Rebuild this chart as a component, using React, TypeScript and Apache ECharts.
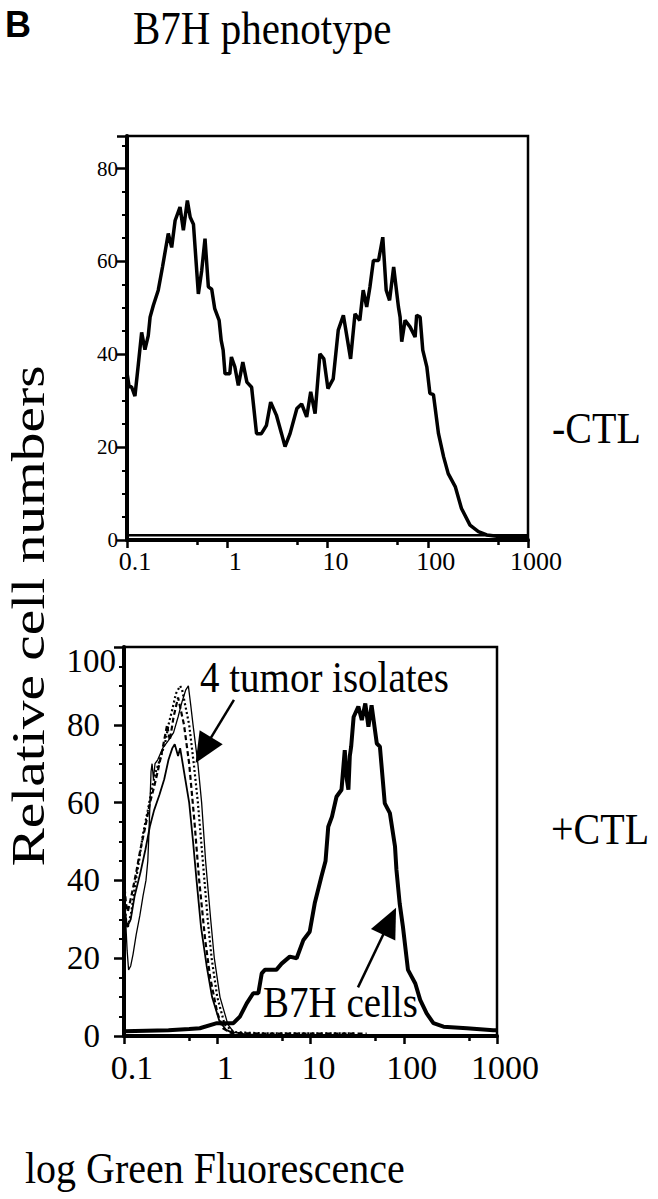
import React, { useEffect, useRef } from 'react';
import * as echarts from 'echarts';

const SERIF = '"Liberation Serif", "Times New Roman", serif';
const SANS = '"Liberation Sans", Arial, sans-serif';

// ---- axis definitions ----
const X_MIN = 0.1;
const X_MAX = 1000;
const xTickLabels = ['0.1', '1', '10', '100', '1000'];
const xMinorTicks = [0.5, 5, 50, 500];
const topYMax = 87;
const bottomYMax = 100;

// ---- top panel (-CTL) ----
const topCurve: number[][] = [
  [0.1, 36], [0.105, 33], [0.111, 33], [0.12, 31], [0.13, 38], [0.14, 44.7], [0.151, 41], [0.163, 44],
  [0.17, 48], [0.183, 50.5], [0.205, 53.8], [0.226, 58.8], [0.258, 66], [0.279, 63], [0.302, 68.8],
  [0.338, 71.7], [0.365, 66.7], [0.4, 73.1], [0.427, 69.5], [0.46, 68], [0.515, 53], [0.556, 58],
  [0.6, 64.9], [0.648, 54.5], [0.7, 54], [0.75, 49.8], [0.83, 47.3], [0.87, 43], [0.91, 40.9],
  [0.95, 35.8], [1.06, 35.8], [1.1, 39.4], [1.19, 37.3], [1.29, 33.3], [1.43, 38.3], [1.57, 34],
  [1.75, 32.9], [1.96, 22.9], [2.19, 22.9], [2.46, 24.7], [2.71, 29.7], [3.09, 26.9], [3.48, 22.9],
  [3.77, 20.1], [4.23, 22.9], [4.95, 28.3], [5.52, 29.3], [6.2, 26.5], [6.8, 31.9], [7.52, 27.2],
  [8.4, 40.1], [9.2, 39], [10.1, 32.6], [11.4, 34.7], [12.8, 45.2], [14.4, 48.4], [17, 39],
  [18.8, 48.7], [21, 47.3], [22.7, 53.8], [24.6, 50.2], [26.5, 54.5], [28.7, 60.2], [32.3, 60.2],
  [35.6, 65.2], [38.5, 53.8], [41.6, 51.6], [45.7, 58.8], [51, 50.2], [53, 48], [55, 42.7],
  [59.4, 47.3], [66.6, 45.9], [74.8, 43.7], [77.5, 48.4], [83.9, 48], [89.2, 40.9], [97.9, 37.3],
  [105, 31.6], [114, 31.3], [128, 22.9], [144, 17.9], [160, 14.3], [188, 11.5], [217, 6.8],
  [264, 3.2], [320, 1.8], [388, 1.1], [490, 0.8], [1000, 0.6],
];
const topBaseline: number[][] = [[0.1, 1], [1000, 1]];

// ---- bottom panel (+CTL) ----
const tumorThin: number[][] = [
  [0.1, 38], [0.104, 30], [0.108, 22], [0.112, 17], [0.118, 18], [0.125, 21], [0.135, 26], [0.148, 31],
  [0.16, 36], [0.172, 40], [0.18, 45], [0.185, 52], [0.19, 60], [0.195, 68], [0.2, 70], [0.207, 66],
  [0.215, 70], [0.23, 71], [0.26, 74], [0.3, 76], [0.34, 78], [0.38, 82], [0.42, 86], [0.46, 89],
  [0.49, 90], [0.52, 85], [0.55, 80], [0.62, 70], [0.68, 60], [0.75, 45], [0.85, 30], [0.93, 20],
  [1.07, 10], [1.3, 3], [1.5, 1], [2, 0.5], [3, 0.4],
];
const tumorDashed: number[][] = [
  [0.1, 40], [0.105, 34], [0.11, 32], [0.12, 36], [0.135, 42], [0.15, 48], [0.17, 54], [0.19, 60],
  [0.21, 64], [0.23, 68], [0.26, 74], [0.29, 80], [0.31, 76], [0.34, 82], [0.38, 87], [0.44, 80],
  [0.5, 70], [0.57, 55], [0.64, 40], [0.74, 25], [0.84, 15], [1.0, 6], [1.15, 2], [1.4, 0.8],
  [3, 0.6], [8, 0.6], [20, 0.6], [40, 0.6],
];
const tumorDotted: number[][] = [
  [0.1, 36], [0.105, 30], [0.11, 28], [0.12, 32], [0.13, 38], [0.145, 45], [0.16, 52], [0.18, 58],
  [0.2, 64], [0.22, 68], [0.25, 72], [0.28, 76], [0.3, 80], [0.33, 84], [0.36, 88], [0.4, 90],
  [0.42, 89], [0.5, 80], [0.56, 70], [0.62, 60], [0.7, 45], [0.79, 30], [0.87, 20], [1.0, 10],
  [1.2, 3], [1.5, 1], [3, 0.7], [10, 0.7], [30, 0.7],
];
const tumorMedium: number[][] = [
  [0.1, 34], [0.108, 28], [0.118, 30], [0.13, 36], [0.15, 42], [0.17, 48], [0.19, 54], [0.21, 58],
  [0.24, 62], [0.27, 66], [0.3, 71], [0.33, 74], [0.35, 75], [0.38, 72], [0.4, 74], [0.44, 68],
  [0.5, 60], [0.55, 50], [0.6, 40], [0.67, 28], [0.77, 18], [0.88, 10], [1.05, 4], [1.25, 1.5],
  [1.5, 0.8],
];
const b7hCells: number[][] = [
  [0.1, 1.2], [0.3, 1.5], [0.5, 1.8], [0.65, 2], [0.99, 3.3], [1.49, 3.3], [1.75, 5], [2.07, 8.4],
  [2.43, 11], [2.76, 11], [3.0, 16.1], [3.24, 17], [4.3, 17], [4.9, 18.6], [6.0, 20.4], [7.1, 20],
  [8.4, 24.7], [9.8, 26.8], [11.1, 34.1], [13.1, 41], [14.5, 45], [15.5, 53.8], [17, 56.4], [19, 61.5],
  [21.5, 63.3], [23.3, 73.5], [24.5, 66], [25.5, 63.3], [26.4, 72], [27.3, 74.4], [29, 82],
  [32.6, 84.7], [35.5, 81.2], [38.7, 85.5], [41.8, 79.5], [45.2, 85], [51.4, 75.2], [55.5, 74.4],
  [62.6, 59.8], [71, 57.3], [80.6, 48.7], [83.5, 42.7], [90.4, 34.1], [98, 28.1], [111, 17],
  [133, 13.5], [150, 9.3], [176, 5.8], [208, 3.3], [267, 2.4], [475, 2], [912, 1.5], [1000, 1.5],
];

// arrow annotations (data coordinates: start -> arrowhead)
const tumorArrow: number[][] = [[1.51, 86.4], [0.71, 73.5]];
const b7hArrow: number[][] = [[32.3, 12.5], [70.5, 29.5]];

function makeX(gridIndex: number, fontSize: number, margin: number, shift: number) {
  return {
    type: 'log',
    logBase: 10,
    gridIndex,
    min: X_MIN,
    max: X_MAX,
    position: 'bottom',
    splitNumber: 4,
    axisLine: { show: true, onZero: false, lineStyle: { color: '#000', width: 4 } },
    axisTick: { show: true, length: 8, lineStyle: { color: '#000', width: 2.5 } },
    axisLabel: {
      color: '#000',
      fontFamily: SERIF,
      fontSize,
      margin,
      padding: [0, 0, 0, shift],
      formatter: (v: number) => xTickLabels[Math.round(Math.log10(v)) + 1] ?? '',
    },
    splitLine: { show: false },
  };
}

function makeXMinor(gridIndex: number) {
  return {
    type: 'log',
    logBase: 10,
    gridIndex,
    min: X_MIN,
    max: X_MAX,
    position: 'bottom',
    axisLine: { show: false },
    axisLabel: { show: false },
    axisTick: { show: true, customValues: xMinorTicks, length: 5, lineStyle: { color: '#000', width: 2.5 } },
    splitLine: { show: false },
  };
}

function makeY(gridIndex: number, max: number, fontSize: number, margin: number, downShift: number) {
  return {
    type: 'value',
    gridIndex,
    min: 0,
    max,
    interval: 20,
    axisLine: { show: true, onZero: false, lineStyle: { color: '#000', width: 4 } },
    axisTick: { show: true, length: 10, lineStyle: { color: '#000', width: 2.5 } },
    minorTick: { show: true, splitNumber: 4, length: 5, lineStyle: { color: '#000', width: 2 } },
    axisLabel: {
      color: '#000',
      fontFamily: SERIF,
      fontSize,
      margin,
      padding: [downShift, 0, 0, 0],
      showMaxLabel: max % 20 === 0,
      formatter: (v: number) => (v === 100 ? '' : String(v)),
    },
    splitLine: { show: false },
    minorSplitLine: { show: false },
  };
}

function lineSeries(data: number[][], xi: number, yi: number, width: number, type: any, z = 3) {
  return {
    type: 'line',
    xAxisIndex: xi,
    yAxisIndex: yi,
    data,
    symbol: 'none',
    showSymbol: false,
    silent: true,
    z,
    lineStyle: { color: '#000', width, type },
  };
}

function label(text: string, x: number, y: number, size: number, opts: any = {}) {
  return {
    type: 'text',
    x,
    y,
    silent: true,
    scaleY: opts.scaleY ?? 1.12,
    scaleX: opts.scaleX ?? 1,
    rotation: opts.rotation ?? 0,
    style: {
      text,
      font: `${opts.bold ? 'bold ' : ''}${size}px ${opts.family ?? SERIF}`,
      fill: '#000',
      textAlign: opts.align ?? 'left',
      textVerticalAlign: 'middle',
    },
  };
}

export default function App() {
  const ref = useRef<HTMLDivElement>(null);

  useEffect(() => {
    if (!ref.current) return;
    const chart = echarts.init(ref.current, undefined, { renderer: 'svg' });
    const b7hSeries: any = lineSeries(b7hCells, 2, 1, 4, 'solid', 4);
    b7hSeries.markLine = {
      silent: true,
      animation: false,
      symbol: ['none', 'triangle'],
      symbolSize: [27, 30],
      lineStyle: { color: '#000', width: 2.5, type: 'solid' },
      itemStyle: { color: '#000' },
      label: { show: false },
      emphasis: { disabled: true },
      data: [
        [{ coord: tumorArrow[0] }, { coord: tumorArrow[1] }],
        [{ coord: b7hArrow[0] }, { coord: b7hArrow[1] }],
      ],
    };

    const option: any = {
      animation: false,
      backgroundColor: '#fff',
      grid: [
        { left: 127, top: 136, width: 401, height: 404, show: true, borderColor: '#000', borderWidth: 2.5, backgroundColor: 'transparent' },
        { left: 124, top: 647, width: 373, height: 389, show: true, borderColor: '#000', borderWidth: 2.5, backgroundColor: 'transparent' },
      ],
      xAxis: [makeX(0, 26, 8, 16), makeXMinor(0), makeX(1, 34, 14, 16), makeXMinor(1)],
      yAxis: [makeY(0, topYMax, 21, 9, 0), makeY(1, bottomYMax, 33, 24, 16)],
      series: [
        lineSeries(topBaseline, 0, 0, 2.5, 'solid'),
        lineSeries(topCurve, 0, 0, 3.5, 'solid'),
        lineSeries(tumorThin, 2, 1, 1.3, 'solid'),
        lineSeries(tumorDashed, 2, 1, 2.2, [5, 3]),
        lineSeries(tumorDotted, 2, 1, 2.2, [2, 2.5]),
        lineSeries(tumorMedium, 2, 1, 1.8, 'solid'),
        b7hSeries,
      ],
      graphic: [
        label('B', 5, 24, 36, { bold: true, family: SANS, scaleY: 1 }),
        label('B7H phenotype', 133, 28, 41),
        label('-CTL', 552, 428, 40),
        label('+CTL', 551, 829, 40),
        label('4 tumor isolates', 200, 677, 39),
        label('B7H cells', 263, 1002, 39),
        label('100', 116, 661, 33, { align: 'right', scaleY: 1 }),
        label('log Green Fluorescence', 25, 1168, 40),
        label('Relative cell numbers', 29, 616, 46, { align: 'center', rotation: Math.PI / 2, scaleX: 1.25, scaleY: 1 }),
      ],
    };
    chart.setOption(option);
    return () => chart.dispose();
  }, []);

  return (
    <div
      ref={ref}
      style={{ position: 'fixed', left: 0, top: 0, width: 658, height: 1199, background: '#fff' }}
    />
  );
}
